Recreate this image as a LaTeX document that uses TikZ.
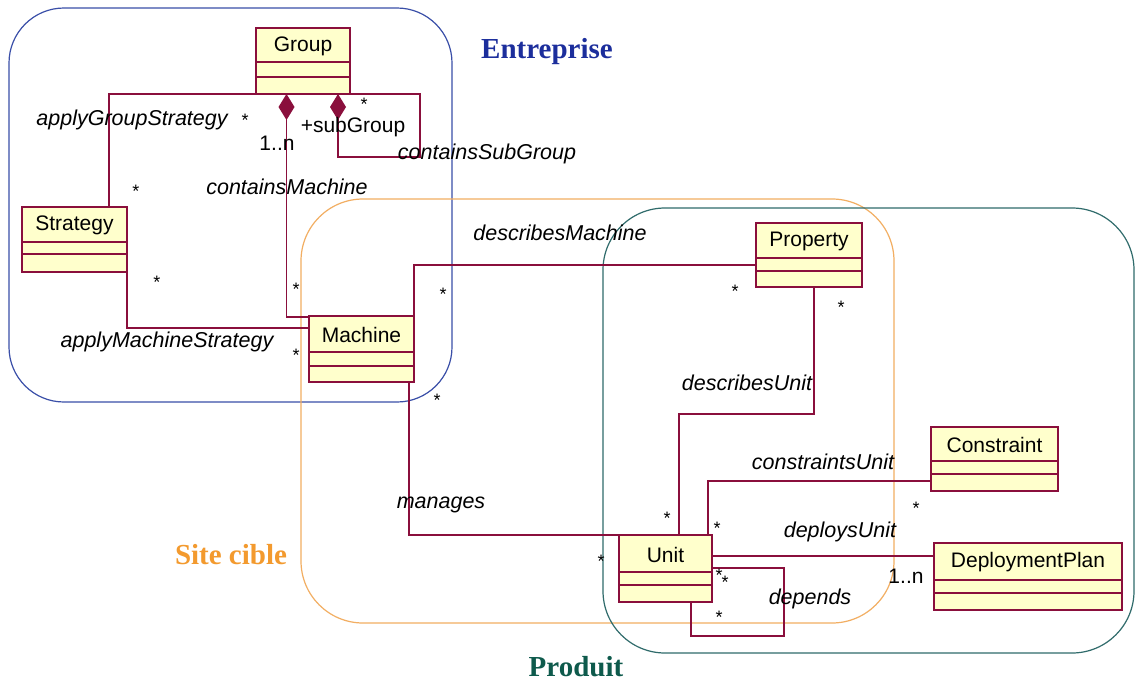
\documentclass[tikz,border=0pt]{standalone}
\usepackage{fontspec}
\setmainfont{Liberation Sans}
\newfontfamily\regionfont{Liberation Serif}
\usetikzlibrary{arrows.meta,calc}
\definecolor{lnc}{HTML}{8A0F3C}
\definecolor{clsfill}{HTML}{FFFFCC}
\definecolor{entc}{HTML}{3A4FA8}
\definecolor{entt}{HTML}{1C2E9C}
\definecolor{sitec}{HTML}{F2AE62}
\definecolor{sitet}{HTML}{F39A2E}
\definecolor{prodc}{HTML}{2F6B6B}
\definecolor{prodt}{HTML}{0E5A4C}
\tikzset{
  clsbox/.style={draw=lnc, fill=clsfill, line width=1.6pt, inner sep=0pt, outer sep=0pt},
  clsline/.style={draw=lnc, line width=1.4pt},
  clsname/.style={font=\fontsize{21}{23}\selectfont, inner sep=0pt, text=black},
  thk/.style={draw=lnc, line width=2.4pt},
  thn/.style={draw=lnc, line width=1.2pt},
  assoc/.style={font=\fontsize{21.5}{23}\selectfont\itshape, inner sep=0pt, text=black},
  mult/.style={font=\fontsize{18}{18}\selectfont, inner sep=0pt, anchor=base, yshift=-10pt, text=black},
  multn/.style={font=\fontsize{21}{23}\selectfont, inner sep=0pt, text=black},
  region/.style={line width=1.2pt},
  regionlabel/.style={font=\fontsize{29}{31}\selectfont\regionfont\bfseries, inner sep=0pt},
  comp/.style={{Diamond[length=26pt,width=16pt]}-}
}
\newcommand\umlcls[8]{%
  \node[clsbox, minimum width={#4-#2}, minimum height={#5-#3}, anchor=north west] (#1) at (#2,#3) {};
  \draw[clsline] (#2,#7) -- (#4,#7);
  \draw[clsline] (#2,#8) -- (#4,#8);
  \node[clsname] (#1-name) at ({(#2+#4)/2},{(#3+#7)/2+1}) {#6};
}
\begin{document}
\begin{tikzpicture}[x=1pt,y=-1pt]
\useasboundingbox[fill=white] (0,0) rectangle (1135,681);

% regions
\draw[region, entc, rounded corners=55pt] (9,8) rectangle (452,402);
\draw[region, sitec, rounded corners=62pt] (301,199) rectangle (894,623);
\draw[region, prodc, rounded corners=62pt] (603,208) rectangle (1134,653);
\node[regionlabel, text=entt] (lent) at (547,52) {Entreprise};
\node[regionlabel, text=sitet] (lsite) at (231,555) {Site cible};
\node[regionlabel, text=prodt] (lprod) at (576,667) {Produit};

% classes
\umlcls{group}{256}{28}{350}{94}{Group}{62}{77}
\umlcls{strategy}{22}{207}{127}{272}{Strategy}{242}{254}
\umlcls{machine}{309}{316}{414}{382}{Machine}{352}{366}
\umlcls{property}{756}{223}{862}{287}{Property}{258}{271}
\umlcls{constraint}{931}{427}{1058}{491}{Constraint}{461}{474}
\umlcls{unit}{619}{535}{712}{602}{Unit}{572}{585}
\umlcls{deploy}{934}{543}{1122}{610}{DeploymentPlan}{580}{593}

% bend coordinates
\coordinate (gs) at (109,94);
\coordinate (cm) at (286.5,317);
\coordinate (sgx) at (338,157);
\coordinate (sg1) at (420,157);
\coordinate (ams) at (127,328);
\coordinate (dm) at (414,265);
\coordinate (mg) at (409,535);
\coordinate (du1) at (814,414);
\coordinate (du2) at (679,414);
\coordinate (cu) at (708,481);
\coordinate (dp) at (712,556);
\coordinate (dd1) at (784,568);
\coordinate (dd2) at (691,636);

% connectors
\draw[thk] (group.south west) -| (strategy.north -| gs);
\draw[thn, comp] (group.south -| cm) |- (machine.west |- cm);
\draw[thk, comp] (group.south -| sgx) -- (sgx) -- (sg1) -- (group.south -| sg1) -- (group.south east);
\draw[thn] (strategy.south east) |- (machine.west |- ams);
\draw[thn] (machine.north east) |- (property.west |- dm);
\draw[thk] (machine.south -| mg) |- (unit.north west);
\draw[thn] (property.south -| du1) -- (du1) -- (du2) -- (unit.north -| du2);
\draw[thk] (constraint.west |- cu) -| (unit.north -| cu);
\draw[thn] (unit.east |- dp) -- (deploy.west |- dp);
\draw[thn] (unit.east |- dd1) -- (dd1) -- (dd1 |- dd2) -- (dd2) -- (unit.south -| dd2);

% association names
\node[assoc] (t1) at (132,120) {applyGroupStrategy};
\node[assoc] (t2) at (287,187) {containsMachine};
\node[assoc] (t3) at (487,154) {containsSubGroup};
\node[assoc] (t4) at (167,342) {applyMachineStrategy};
\node[assoc] (t5) at (560,233) {describesMachine};
\node[assoc] (t6) at (747,383) {describesUnit};
\node[assoc] (t7) at (441,505) {manages};
\node[assoc] (t8) at (823,462) {constraintsUnit};
\node[assoc] (t9) at (840,532) {deploysUnit};
\node[assoc] (t10) at (810,599) {depends};

% roles and multiplicities
\node[multn] (r1) at (353,127) {+subGroup};
\node[multn] (r2) at (277,143) {1..n};
\node[multn] (r3) at (906,576) {1..n};
\node[mult] (m1) at (245,116) {*};
\node[mult] (m2) at (136,187) {*};
\node[mult] (m3) at (364,100) {*};
\node[mult] (m4) at (296,285) {*};
\node[mult] (m5) at (157,278) {*};
\node[mult] (m6) at (296,351) {*};
\node[mult] (m7) at (443,290) {*};
\node[mult] (m8) at (735,287) {*};
\node[mult] (m9) at (841,303) {*};
\node[mult] (m10) at (437,396) {*};
\node[mult] (m11) at (667,514) {*};
\node[mult] (m12) at (601,557) {*};
\node[mult] (m13) at (916,504) {*};
\node[mult] (m14) at (717,524) {*};
\node[mult] (m15) at (719,571) {*};
\node[mult] (m16) at (725,578) {*};
\node[mult] (m17) at (719,613) {*};
\end{tikzpicture}
\end{document}
